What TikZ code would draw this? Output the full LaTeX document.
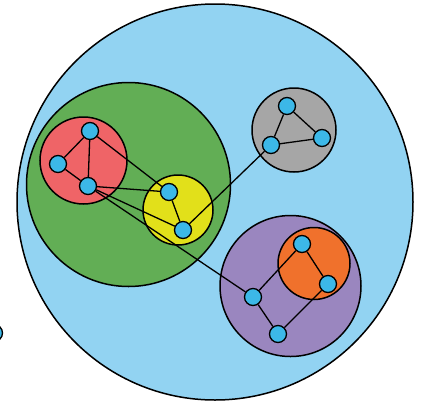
\documentclass[tikz,border=0pt]{standalone}
\pgfdeclarelayer{bg}
\pgfdeclarelayer{edges}
\pgfsetlayers{bg,edges,main}
\definecolor{skyc}{RGB}{146,211,242}
\definecolor{greenc}{RGB}{98,174,85}
\definecolor{redc}{RGB}{239,100,103}
\definecolor{yellowc}{RGB}{226,224,26}
\definecolor{grayc}{RGB}{166,166,166}
\definecolor{purplec}{RGB}{154,134,191}
\definecolor{orangec}{RGB}{240,113,44}
\definecolor{nodec}{RGB}{60,184,232}
\tikzset{
  cluster/.style={circle,draw=black,line width=1.5pt,inner sep=0pt,minimum size=#1},
  vtx/.style={circle,draw=black,line width=1.3pt,fill=nodec,inner sep=0pt,minimum size=17pt},
  edge/.style={draw=black,line width=1.3pt}
}
\begin{document}
\begin{tikzpicture}[x=1pt,y=-1pt]
\useasboundingbox (0,0) rectangle (423,413);
\begin{pgfonlayer}{bg}
\node[cluster=396pt,fill=skyc] (world) at (215,202) {};
\node[cluster=204pt,fill=greenc] (green) at (128.5,184.5) {};
\node[cluster=87pt,fill=redc] (red) at (83.5,160.5) {};
\node[cluster=70pt,fill=yellowc] (yellow) at (178,210) {};
\node[cluster=84pt,fill=grayc] (gray) at (294,130) {};
\node[cluster=141pt,fill=purplec] (purple) at (290.5,286) {};
\node[cluster=72pt,fill=orangec] (orange) at (314,263.5) {};
\end{pgfonlayer}
% vertices
\node[vtx] (r1) at (90,131) {};
\node[vtx] (r2) at (58,164) {};
\node[vtx] (r3) at (88,186) {};
\node[vtx] (y1) at (169,192) {};
\node[vtx] (y2) at (183,230) {};
\node[vtx] (g1) at (287,106) {};
\node[vtx] (g2) at (322,138) {};
\node[vtx] (g3) at (271,145) {};
\node[vtx] (o1) at (302,244) {};
\node[vtx] (o2) at (328,284) {};
\node[vtx] (p1) at (253,297) {};
\node[vtx] (p2) at (278,334) {};
\node[vtx] (x1) at (-6,333) {};
\begin{pgfonlayer}{edges}
\draw[edge] (r1) -- (r2);
\draw[edge] (r1) -- (r3);
\draw[edge] (r2) -- (r3);
\draw[edge] (r1) -- (y1);
\draw[edge] (r3) -- (y1);
\draw[edge] (r3) -- (y2);
\draw[edge] (r3) -- (p1);
\draw[edge] (y1) -- (y2);
\draw[edge] (y2) -- (g3);
\draw[edge] (g1) -- (g2);
\draw[edge] (g1) -- (g3);
\draw[edge] (g2) -- (g3);
\draw[edge] (o1) -- (o2);
\draw[edge] (o1) -- (p1);
\draw[edge] (o2) -- (p2);
\draw[edge] (p1) -- (p2);
\end{pgfonlayer}
\end{tikzpicture}
\end{document}
